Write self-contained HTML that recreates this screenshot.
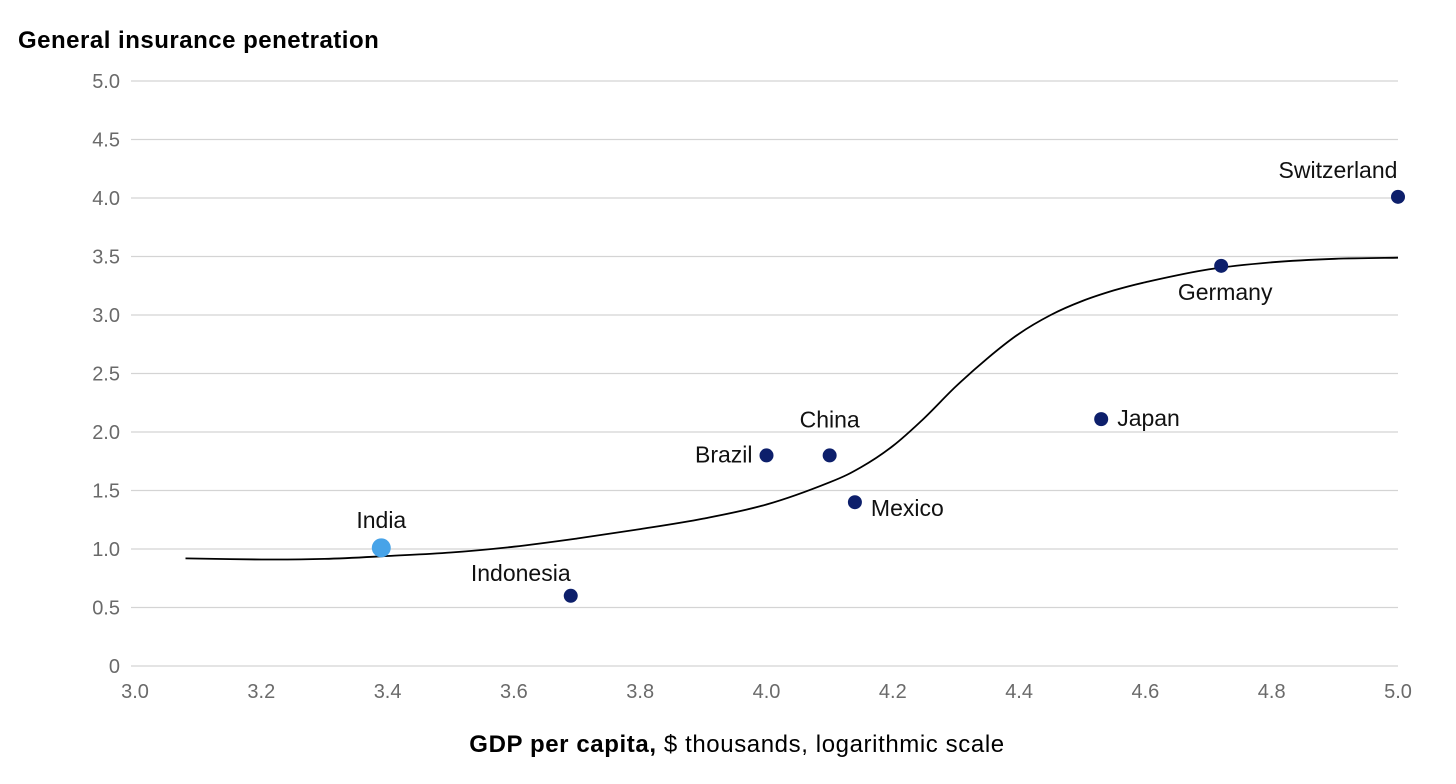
<!DOCTYPE html>
<html><head><meta charset="utf-8"><style>
body{margin:0;background:#fff;width:1456px;height:779px;overflow:hidden;font-family:"Liberation Sans",sans-serif}
</style></head><body>
<svg id="chart" width="1456" height="779" xmlns="http://www.w3.org/2000/svg" font-family="Liberation Sans, sans-serif">
<text x="18" y="48" font-size="24" font-weight="bold" letter-spacing="0.5" fill="#000">General insurance penetration</text>
<text x="737" y="752" font-size="24" letter-spacing="0.6" text-anchor="middle" fill="#000"><tspan font-weight="bold">GDP per capita,</tspan> $ thousands, logarithmic scale</text>
<g id="grid"></g><g id="curve"></g><g id="pts"></g>
</svg>
<script>
const yTicks=[0,0.5,1.0,1.5,2.0,2.5,3.0,3.5,4.0,4.5,5.0];
const yTickLabels=["0","0.5","1.0","1.5","2.0","2.5","3.0","3.5","4.0","4.5","5.0"];
const xTicks=[3.0,3.2,3.4,3.6,3.8,4.0,4.2,4.4,4.6,4.8,5.0];
const xTickLabels=["3.0","3.2","3.4","3.6","3.8","4.0","4.2","4.4","4.6","4.8","5.0"];
const countries=["India","Indonesia","Brazil","China","Mexico","Japan","Germany","Switzerland"];
const gdp=[3.39,3.69,4.0,4.1,4.14,4.53,4.72,5.0];
const penetration=[1.01,0.6,1.8,1.8,1.4,2.11,3.42,4.01];
const curveX=[3.08,3.2,3.3,3.4,3.5,3.6,3.7,3.8,3.9,4.0,4.1,4.15,4.2,4.25,4.3,4.35,4.4,4.45,4.5,4.55,4.6,4.7,4.8,4.9,5.0];
const curveY=[0.92,0.91,0.915,0.94,0.97,1.02,1.09,1.17,1.26,1.38,1.57,1.70,1.88,2.12,2.39,2.63,2.84,3.00,3.12,3.21,3.28,3.39,3.45,3.48,3.49];
const sx=v=>135+(v-3)*(1263/2), sy=v=>666-v*117;
const NS="http://www.w3.org/2000/svg";
function mk(tag,attrs,parent,txt){const e=document.createElementNS(NS,tag);for(const k in attrs)e.setAttribute(k,attrs[k]);if(txt!=null)e.textContent=txt;parent.appendChild(e);return e;}
const grid=document.getElementById('grid');
yTicks.forEach((t,i)=>{
 const l=mk('line',{x1:131,x2:1398,y1:sy(t),y2:sy(t),stroke:'#d4d4d4','stroke-width':1.2},grid);
 
 
 const tx=mk('text',{x:120,y:sy(t)+7,'font-size':20,'text-anchor':'end',fill:'#6a6a6a'},grid,yTickLabels[i]);
 
 
});
xTicks.forEach((t,i)=>{
 const tx=mk('text',{x:sx(t),y:698,'font-size':20,'text-anchor':'middle',fill:'#6a6a6a'},grid,xTickLabels[i]);
 
 
});
const P=curveX.map((x,i)=>[sx(x),sy(curveY[i])]);
let d='M'+P[0][0].toFixed(1)+','+P[0][1].toFixed(1);
for(let i=0;i<P.length-1;i++){
 const p0=P[Math.max(i-1,0)],p1=P[i],p2=P[i+1],p3=P[Math.min(i+2,P.length-1)];
 const c1=[p1[0]+(p2[0]-p0[0])/6,p1[1]+(p2[1]-p0[1])/6],c2=[p2[0]-(p3[0]-p1[0])/6,p2[1]-(p3[1]-p1[1])/6];
 d+='C'+c1[0].toFixed(1)+','+c1[1].toFixed(1)+' '+c2[0].toFixed(1)+','+c2[1].toFixed(1)+' '+p2[0].toFixed(1)+','+p2[1].toFixed(1);
}
const p=mk('path',{d:d,fill:'none',stroke:'#000','stroke-width':1.8,'stroke-linejoin':'round'},document.getElementById('curve'));


const off={India:[0,-20,'middle'],Indonesia:[-50,-15,'middle'],Brazil:[-14,7,'end'],China:[0,-28,'middle'],Mexico:[16,14,'start'],Japan:[16,7,'start'],Germany:[4,34,'middle'],Switzerland:[-60,-19,'middle']};
const pts=document.getElementById('pts');
countries.forEach((c,i)=>{
 const x=sx(gdp[i]),y=sy(penetration[i]);
 const dot=mk('circle',{cx:x,cy:y,r:c==='India'?9.5:7,fill:c==='India'?'#47a3e8':'#0d1f6b'},pts);
 
 
 const o=off[c];
 const t=mk('text',{x:x+o[0],y:y+o[1],'font-size':23,'text-anchor':o[2],fill:'#111'},pts,c);
 
 
});
</script>
</body></html>
